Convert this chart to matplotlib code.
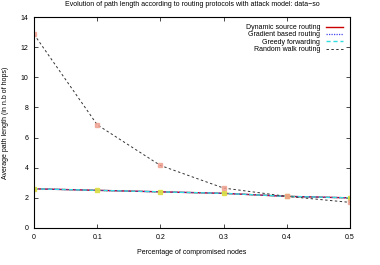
import matplotlib.pyplot as plt

# Datos
x = [0, 0.1, 0.2, 0.3, 0.4, 0.5]
dsr = [2.6, 2.5, 2.4, 2.3, 2.1, 2.0]
gradient = [2.6, 2.5, 2.4, 2.3, 2.1, 2.0]
greedy = [2.6, 2.5, 2.4, 2.3, 2.1, 2.0]
random_walk = [12.85, 6.85, 4.15, 2.65, 2.1, 1.7]

plt.rcParams['font.family'] = 'Liberation Sans'
plt.rcParams['font.size'] = 5

fig = plt.figure(figsize=(3.8, 2.65), dpi=100)
ax = fig.add_axes([34 / 380, 1 - 228 / 265, (350 - 34) / 380, (228 - 17) / 265])

ax.plot(x, dsr, color='#cc0000', lw=1.0, label='Dynamic source routing')
ax.plot(x, gradient, color='#4444ee', lw=0.9, ls=(0, (1, 1)), label='Gradient based routing')
ax.plot(x, greedy, color='#33dddd', lw=1.0, ls=(0, (3, 2)), label='Greedy forwarding')
ax.plot(x, random_walk, color='#333333', lw=0.7, ls=(0, (2.5, 2.5)), label='Random walk routing')

# Puntos de los datos
ax.plot(x, greedy, ls='none', marker='s', ms=2.4, color='#dddd44', alpha=0.9)
ax.plot(x, random_walk, ls='none', marker='s', ms=2.8, color='#f0a090', alpha=0.8)

ax.set_xlim(0, 0.5)
ax.set_ylim(0, 14)
ax.set_xticks([0, 0.1, 0.2, 0.3, 0.4, 0.5])
ax.set_xticklabels(['0', '0.1', '0.2', '0.3', '0.4', '0.5'])
ax.set_yticks(range(0, 15, 2))
ax.tick_params(direction='in', top=True, right=True, length=3, width=0.5, labelsize=5, pad=4)
for s in ax.spines.values():
    s.set_linewidth(0.8)

ax.set_xlabel('Percentage of compromised nodes', fontsize=5, labelpad=6)
ax.set_ylabel('Average path length (in n.b of hops)', fontsize=5, labelpad=8)
ax.set_title('Evolution of path length according to routing protocols with attack model: data\u2212so',
             fontsize=5, pad=8)

leg = ax.legend(loc='upper right', frameon=False, fontsize=5, markerfirst=False,
                handlelength=2.5, labelspacing=0.05, borderaxespad=0.6)

fig.savefig('out.png', dpi=100)
